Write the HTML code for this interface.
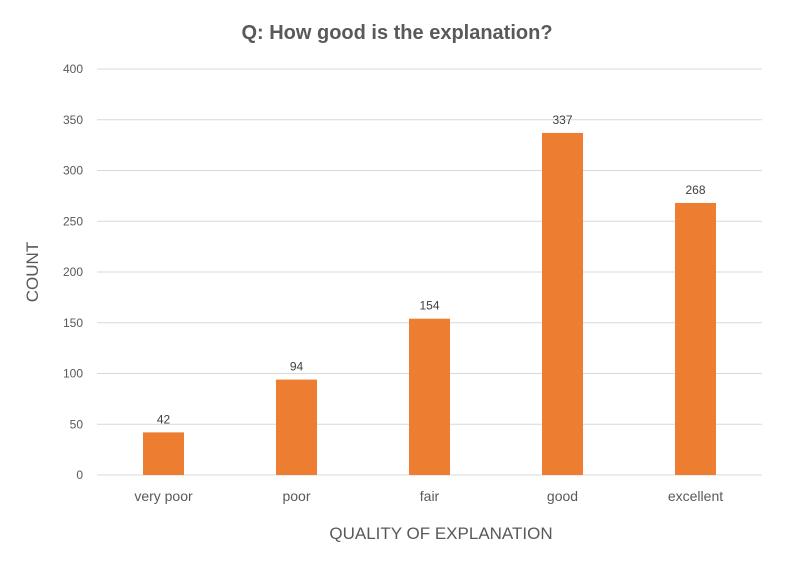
<!DOCTYPE html>
<html><head><meta charset="utf-8"><style>
body{margin:0;background:#fff;}
svg{display:block;font-family:"Liberation Sans",sans-serif;}
</style></head><body>
<svg id="chart" width="794" height="562">
<text x="397" y="39" text-anchor="middle" font-size="20" font-weight="bold" fill="#595959">Q: How good is the explanation?</text>
<text transform="translate(38,272) rotate(-90)" text-anchor="middle" font-size="17" fill="#595959">COUNT</text>
<text x="441" y="539" text-anchor="middle" font-size="17" fill="#595959">QUALITY OF EXPLANATION</text>
<g id="grid"></g><g id="bars"></g><g id="labels"></g>
</svg>
<script>
const categories=["very poor","poor","fair","good","excellent"];
const values=[42,94,154,337,268];
const yTicks=[0,50,100,150,200,250,300,350,400];
const NS="http://www.w3.org/2000/svg";
const x0=97,x1=762,yBase=475,yTop=69,yMax=400;
const band=(x1-x0)/categories.length;
const xScale=i=>x0+band*(i+0.5);
const yScale=v=>yBase-(v/yMax)*(yBase-yTop);
function mk(t,a,p){const e=document.createElementNS(NS,t);for(const k in a)e.setAttribute(k,a[k]);p.appendChild(e);return e;}
const grid=document.getElementById('grid'),bars=document.getElementById('bars'),labels=document.getElementById('labels');
yTicks.forEach(t=>{
 const l=mk('line',{x1:x0,x2:x1,y1:yScale(t),y2:yScale(t),stroke:'#d9d9d9','stroke-width':1},grid);
 
 
 const tx=mk('text',{x:83,y:yScale(t)+4,'text-anchor':'end','font-size':12,fill:'#595959'},grid);
 tx.textContent=t;
 
 
});
const bw=41;
categories.forEach((c,i)=>{
 const v=values[i];
 const r=mk('rect',{x:xScale(i)-bw/2,y:yScale(v),width:bw,height:yBase-yScale(v),fill:'#ED7D31'},bars);
 
 
 const vl=mk('text',{x:xScale(i),y:yScale(v)-9,'text-anchor':'middle','font-size':12,fill:'#404040'},labels);
 vl.textContent=v;
 
 
 const cl=mk('text',{x:xScale(i),y:501,'text-anchor':'middle','font-size':14,fill:'#595959'},labels);
 cl.textContent=c;
 
 
});
</script>
</body></html>
